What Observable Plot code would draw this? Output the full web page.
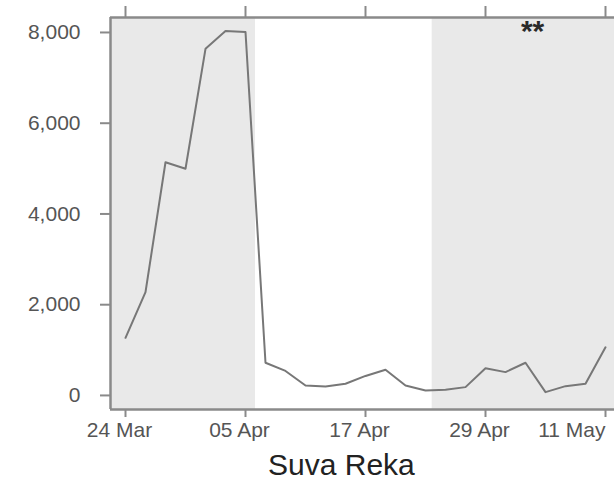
<!DOCTYPE html>
<html>
<head>
<meta charset="utf-8">
<script src="https://cdn.jsdelivr.net/npm/d3@7"></script>
<script src="https://cdn.jsdelivr.net/npm/@observablehq/plot@0.6"></script>
<style>
  html, body { margin: 0; padding: 0; background: #fff; }
  #wrap { position: relative; width: 614px; height: 484px; overflow: hidden; }
  #caption { position: absolute; left: 268px; top: 450px; font-family: "Liberation Sans", Arial, sans-serif; font-size: 30px; line-height: 30px; color: #222; white-space: nowrap; }
</style>
</head>
<body>
<div id="wrap"><div id="chart"></div><div id="caption">Suva Reka</div></div>
<script>
// Data
const dates = ["1999-03-24","1999-03-26","1999-03-28","1999-03-30","1999-04-01","1999-04-03","1999-04-05",
  "1999-04-07","1999-04-09","1999-04-11","1999-04-13","1999-04-15","1999-04-17","1999-04-19","1999-04-21",
  "1999-04-23","1999-04-25","1999-04-27","1999-04-29","1999-05-01","1999-05-03","1999-05-05","1999-05-07",
  "1999-05-09","1999-05-11"];
const values = [1270, 2277, 5140, 4996, 7640, 8030, 8010,
  720, 540, 220, 198, 258, 430, 566, 220,
  110, 125, 183, 600, 514, 720, 73, 205,
  258, 1060];
const tickDates = ["1999-03-24","1999-04-05","1999-04-17","1999-04-29","1999-05-11"];
const yTicks = [0, 2000, 4000, 6000, 8000];
const xDomain = ["1999-03-22T12:00Z", "1999-05-11T21:36Z"];
const yDomain = [-310, 8330];
const shadeStart = ["1999-03-22T12:00Z", "1999-04-23T16:00Z"];
const shadeEnd = ["1999-04-06T00:00Z", "1999-05-13T00:00Z"];
const noteDate = ["1999-05-03T17:00Z"];
const noteValue = [7820];
const noteText = ["**"];

const data = dates.map((d, i) => ({date: new Date(d), value: values[i]}));
const shades = shadeStart.map((s, i) => ({x1: new Date(s), x2: new Date(shadeEnd[i])}));
const ticks = tickDates.map(d => new Date(d));
const notes = noteDate.map((d, i) => ({x: new Date(d), y: noteValue[i], t: noteText[i]}));
const fmt = d3.utcFormat("%d %b");
const axisGrey = "#8a8a8a";

const chart = Plot.plot({
  width: 614,
  height: 445,
  marginLeft: 110,
  marginRight: 0,
  marginTop: 17,
  marginBottom: 36,
  style: {fontFamily: "'Liberation Sans', Arial, sans-serif", fontSize: "21px", color: "#555", background: "#fff"},
  x: {type: "utc", domain: xDomain.map(d => new Date(d))},
  y: {domain: yDomain},
  marks: [
    Plot.rect(shades, {x1: "x1", x2: "x2", fill: "#e9e9e9"}),
    Plot.line(data, {x: "date", y: "value", stroke: "#777", strokeWidth: 2}),
    Plot.text(notes, {x: "x", y: "y", text: "t", fontSize: 30, fontWeight: "bold", fill: "#2a2a2a", lineAnchor: "bottom"}),
    Plot.ruleX([new Date(xDomain[0])], {stroke: axisGrey, strokeWidth: 2.5}),
    Plot.ruleY([yDomain[0], yDomain[1]], {stroke: axisGrey, strokeWidth: 2.5}),
    Plot.axisX({ticks: ticks, tickSize: 8, tickFormat: () => "", label: null, stroke: axisGrey, strokeWidth: 2}),
    Plot.axisX({anchor: "top", ticks: ticks, tickSize: 12, tickFormat: () => "", label: null, stroke: axisGrey, strokeWidth: 2}),
    Plot.text(ticks.slice(0, -1), {x: d => d, text: d => fmt(d), frameAnchor: "bottom", lineAnchor: "top", dy: 13, dx: -6, fontSize: 21, fill: "#555"}),
    Plot.text(ticks.slice(-1), {x: d => d, text: d => fmt(d), frameAnchor: "bottom", lineAnchor: "top", dy: 13, textAnchor: "end", fontSize: 21, fill: "#555"}),
    Plot.axisY({ticks: yTicks, tickSize: 10, tickPadding: 20, tickFormat: d3.format(","), label: null, stroke: axisGrey, strokeWidth: 2, fontSize: 21})
  ]
});
document.getElementById("chart").appendChild(chart);
</script>
</body>
</html>
